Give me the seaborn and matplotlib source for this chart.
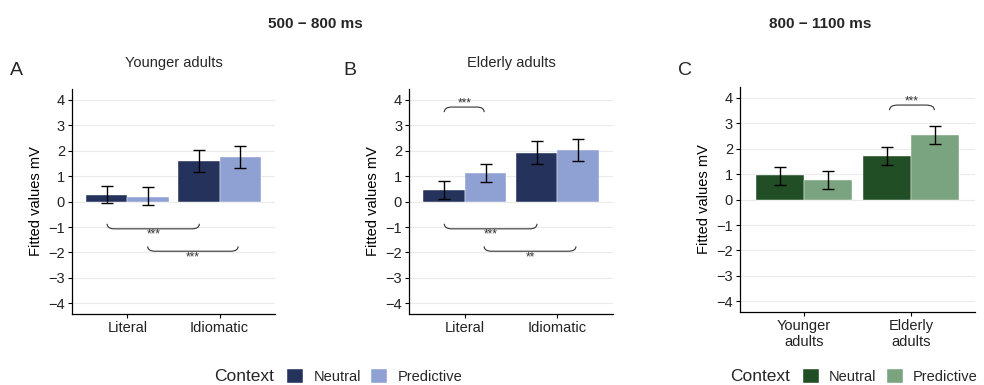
import numpy as np
import pandas as pd
import matplotlib
matplotlib.use("Agg")
import matplotlib.pyplot as plt
from matplotlib.path import Path
from matplotlib.patches import PathPatch
import seaborn as sns

sns.set_theme(style="white")
plt.rcParams['font.family'] = ['Liberation Sans', 'DejaVu Sans']

# ---------------- data ----------------
contexts = ["Neutral", "Predictive"]

conditions = ["Literal", "Idiomatic"]
young_mean = [0.27, 0.20, 1.60, 1.77]      # Literal-N, Literal-P, Idiomatic-N, Idiomatic-P
young_lo   = [-0.05, -0.12, 1.17, 1.33]
young_hi   = [0.62, 0.56, 2.03, 2.20]

elder_mean = [0.45, 1.13, 1.92, 2.02]
elder_lo   = [0.12, 0.78, 1.50, 1.58]
elder_hi   = [0.80, 1.48, 2.37, 2.45]

groups = ["Younger\nadults", "Elderly\nadults"]
late_mean = [0.95, 0.77, 1.73, 2.53]       # Younger-N, Younger-P, Elderly-N, Elderly-P
late_lo   = [0.57, 0.40, 1.37, 2.17]
late_hi   = [1.30, 1.14, 2.08, 2.90]

yticks = [-4, -3, -2, -1, 0, 1, 2, 3, 4]

blue_pal = ["#25335c", "#8fa0d3"]
green_pal = ["#214e24", "#7aa47f"]


def make_df(cats, mean, lo, hi):
    rows = []
    i = 0
    for c in cats:
        for k in contexts:
            rows.append(dict(cat=c, Context=k, value=mean[i], lo=lo[i], hi=hi[i]))
            i += 1
    return pd.DataFrame(rows)


def bracket(ax, x1, x2, y, h, label, ty, fs=8.5):
    # h>0: ends curve upward (bracket below), h<0: ends curve downward
    dx = 0.08
    verts = [(x1, y + h), (x1, y), (x1 + dx, y), (x2 - dx, y), (x2, y), (x2, y + h)]
    codes = [Path.MOVETO, Path.CURVE3, Path.CURVE3, Path.LINETO, Path.CURVE3, Path.CURVE3]
    ax.add_patch(PathPatch(Path(verts, codes), fill=False, lw=0.8, ec="#333333",
                           clip_on=False))
    ax.text((x1 + x2) / 2, ty, label, ha="center", va="center", fontsize=fs,
            color="#333333")


def panel(ax, df, cats, pal):
    sns.barplot(data=df, x="cat", y="value", hue="Context", order=cats,
                hue_order=contexts, palette=pal, errorbar=None, width=0.9,
                saturation=1, ax=ax, legend=True, edgecolor="white", linewidth=0.3)
    # error bars at bar centers
    for j, k in enumerate(contexts):
        cont = ax.containers[j]
        for i, c in enumerate(cats):
            p = cont.patches[i]
            row = df[(df.cat == c) & (df.Context == k)].iloc[0]
            xc = p.get_x() + p.get_width() / 2
            ax.errorbar([xc], [row.value],
                        yerr=[[row.value - row.lo], [row.hi - row.value]],
                        fmt="none", ecolor="black", elinewidth=1.0, capsize=4,
                        capthick=1.0)
    ax.set_ylim(-4.42, 4.43)
    ax.set_xlim(-0.6, 1.6)
    ax.set_yticks(yticks)
    ax.set_yticklabels([str(t).replace("-", "\u2212") for t in yticks])
    ax.set_xlabel("")
    ax.set_ylabel("Fitted values mV", fontsize=10.5, color="black")
    ax.tick_params(axis="both", labelsize=10.5, colors="black", length=3,
                   width=0.8, left=True, bottom=True, pad=2)
    ax.tick_params(axis="both", labelcolor="#222222")
    ax.yaxis.grid(True, color="#ebebeb", lw=0.8)
    ax.set_axisbelow(True)
    for s in ["top", "right"]:
        ax.spines[s].set_visible(False)
    for s in ["left", "bottom"]:
        ax.spines[s].set_color("black")
        ax.spines[s].set_linewidth(0.9)
    h, l = ax.get_legend_handles_labels()
    ax.get_legend().remove()
    return h, l


fig = plt.figure(figsize=(9.84, 3.85), dpi=100)
axA = fig.add_axes([0.0732, 0.1844, 0.2063, 0.5844])
axB = fig.add_axes([0.4157, 0.1844, 0.2073, 0.5844])
axC = fig.add_axes([0.7520, 0.1896, 0.2388, 0.5844])

dfA = make_df(conditions, young_mean, young_lo, young_hi)
dfB = make_df(conditions, elder_mean, elder_lo, elder_hi)
dfC = make_df(groups, late_mean, late_lo, late_hi)

hB, lB = panel(axA, dfA, conditions, blue_pal)
panel(axB, dfB, conditions, blue_pal)
hC, lC = panel(axC, dfC, groups, green_pal)

axA.set_title("Younger adults", fontsize=10.5, pad=16)
axB.set_title("Elderly adults", fontsize=10.5, pad=16)

# significance brackets
bracket(axA, -0.22, 0.78, -1.07, 0.2, "***", -1.28)
bracket(axA, 0.22, 1.20, -1.95, 0.19, "***", -2.2)
bracket(axB, -0.22, 0.21, 3.72, -0.2, "***", 3.88)
bracket(axB, -0.22, 0.78, -1.07, 0.2, "***", -1.28)
bracket(axB, 0.21, 1.20, -1.95, 0.19, "**", -2.2)
bracket(axC, 0.80, 1.22, 3.72, -0.2, "***", 3.88)

# headings & panel letters
fig.text(0.320, 0.938, "500 \u2212 800 ms", ha="center", va="center",
         fontsize=11, fontweight="bold")
fig.text(0.834, 0.938, "800 \u2212 1100 ms", ha="center", va="center",
         fontsize=11, fontweight="bold")
fig.text(0.010, 0.818, "A", fontsize=14, va="center")
fig.text(0.349, 0.818, "B", fontsize=14, va="center")
fig.text(0.689, 0.818, "C", fontsize=14, va="center")

# legends
for xt, hh, ll in [(0.218, hB, lB), (0.742, hC, lC)]:
    fig.text(xt, 0.022, "Context", fontsize=12.5, va="center", ha="left")
    fig.legend(hh, ll, loc="center left", bbox_to_anchor=(xt + 0.074, 0.022),
               ncol=2, frameon=False, fontsize=10.5, handlelength=1.1,
               handleheight=1.1, handletextpad=0.7, columnspacing=0.7,
               borderpad=0, borderaxespad=0)

fig.savefig("out.png", dpi=100)
